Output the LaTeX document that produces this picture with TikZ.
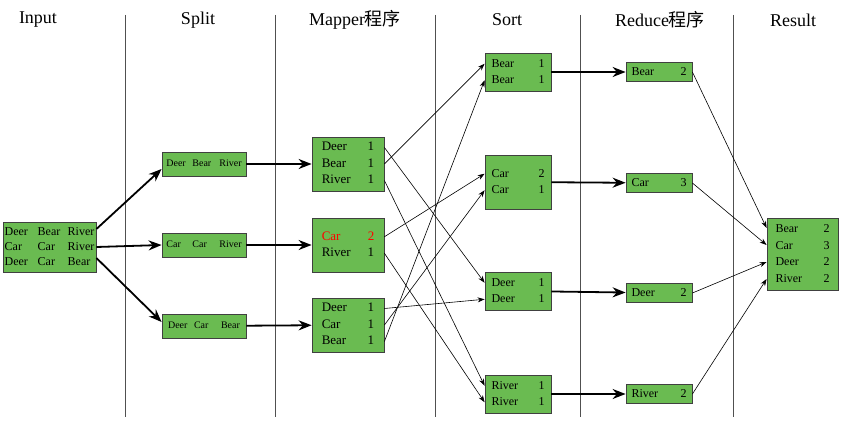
\documentclass[tikz,border=0pt]{standalone}
\usepackage{fontspec}
\setmainfont{Liberation Serif}
\newfontfamily\cjk{Noto Sans CJK SC}
\usetikzlibrary{arrows.meta}
\definecolor{boxgreen}{RGB}{106,187,81}
\definecolor{rulegray}{RGB}{80,80,80}
\newcommand{\fs}[2]{\fontsize{#1}{#2}\selectfont}
\begin{document}
\begin{tikzpicture}[x=1pt,y=1pt]
		\tikzstyle{every node}+=[inner sep=0pt]
		\tikzstyle{box}=[draw=black!75,fill=boxgreen,line width=0.8pt]
		\tikzstyle{head}=[font=\fs{18}{20}]
		\tikzstyle{bigarrow}=[line width=1.8pt,-{Stealth[length=13pt,width=10pt]}]
		\tikzstyle{thinarrow}=[line width=0.6pt,-{Stealth[length=7pt,width=5pt]}]
		\useasboundingbox (0,0) rectangle (842,-422);
		\foreach \x in {125,275,435,580,733}
			\draw [rulegray,line width=0.8pt] (\x,-15) -- (\x,-417);
		\node [head] (hin) at (38,-20) {Input};
		\node [head] (hsplit) at (198,-20) {Split};
		\node [head] (hmap) at (355,-20) {Mapper{\cjk 程序}};
		\node [head] (hsort) at (507,-20) {Sort};
		\node [head] (hred) at (660,-20) {Reduce{\cjk 程序}};
		\node [head] (hres) at (793,-20) {Result};
		\node [box,minimum width=93pt,minimum height=50pt,font=\fs{12}{15}] (in) at (49.5,-247)
			{\begin{tabular}{@{}p{33pt}@{}p{30pt}@{}l@{}}Deer&Bear&River\\Car&Car&River\\Deer&Car&Bear\end{tabular}};
		\node [box,minimum width=84pt,minimum height=24pt,font=\fs{10}{12}] (sp1) at (204,-164)
			{\begin{tabular}{@{}p{26pt}@{}p{27pt}@{}l@{}}Deer&Bear&River\end{tabular}};
		\node [box,minimum width=84pt,minimum height=24pt,font=\fs{10}{12}] (sp2) at (204,-245)
			{\begin{tabular}{@{}p{26pt}@{}p{27pt}@{}l@{}}Car&Car&River\end{tabular}};
		\node [box,minimum width=84pt,minimum height=24pt,font=\fs{10}{12}] (sp3) at (204,-326)
			{\begin{tabular}{@{}p{26pt}@{}p{27pt}@{}l@{}}Deer&Car&Bear\end{tabular}};
		\node [box,minimum width=72pt,minimum height=54pt,font=\fs{13}{16.5}] (m1) at (348,-164)
			{\begin{tabular}{@{}p{46pt}@{}r@{}}Deer&1\\Bear&1\\River&1\end{tabular}};
		\node [box,minimum width=72pt,minimum height=54pt,font=\fs{13}{16.5}] (m2) at (348,-245)
			{\begin{tabular}{@{}p{46pt}@{}r@{}}\textcolor{red}{Car}&\textcolor{red}{2}\\River&1\end{tabular}};
		\node [box,minimum width=72pt,minimum height=54pt,font=\fs{13}{16.5}] (m3) at (348,-325)
			{\begin{tabular}{@{}p{46pt}@{}r@{}}Deer&1\\Car&1\\Bear&1\end{tabular}};
		\node [box,minimum width=66pt,minimum height=38pt,font=\fs{12}{16.5}] (so1) at (518,-72)
			{\begin{tabular}{@{}p{47pt}@{}r@{}}Bear&1\\Bear&1\end{tabular}};
		\node [box,minimum width=66pt,minimum height=54pt,font=\fs{12}{16.5}] (so2) at (518,-182)
			{\begin{tabular}{@{}p{47pt}@{}r@{}}Car&2\\Car&1\end{tabular}};
		\node [box,minimum width=66pt,minimum height=38pt,font=\fs{12}{16.5}] (so3) at (518,-291)
			{\begin{tabular}{@{}p{47pt}@{}r@{}}Deer&1\\Deer&1\end{tabular}};
		\node [box,minimum width=66pt,minimum height=38pt,font=\fs{12}{16.5}] (so4) at (518,-394)
			{\begin{tabular}{@{}p{47pt}@{}r@{}}River&1\\River&1\end{tabular}};
		\node [box,minimum width=66pt,minimum height=19pt,font=\fs{12}{16.5}] (r1) at (659,-72)
			{\begin{tabular}{@{}p{49pt}@{}r@{}}Bear&2\end{tabular}};
		\node [box,minimum width=66pt,minimum height=19pt,font=\fs{12}{16.5}] (r2) at (659,-183)
			{\begin{tabular}{@{}p{49pt}@{}r@{}}Car&3\end{tabular}};
		\node [box,minimum width=66pt,minimum height=19pt,font=\fs{12}{16.5}] (r3) at (659,-293)
			{\begin{tabular}{@{}p{49pt}@{}r@{}}Deer&2\end{tabular}};
		\node [box,minimum width=66pt,minimum height=19pt,font=\fs{12}{16.5}] (r4) at (659,-394)
			{\begin{tabular}{@{}p{49pt}@{}r@{}}River&2\end{tabular}};
		\node [box,minimum width=71pt,minimum height=72pt,font=\fs{12}{16.5}] (res) at (802.5,-254)
			{\begin{tabular}{@{}p{48pt}@{}r@{}}Bear&2\\Car&3\\Deer&2\\River&2\end{tabular}};
		\draw [bigarrow] ([yshift=18pt]in.east) -- ([yshift=-5pt]sp1.west);
		\draw [bigarrow] (in.east) -- (sp2.west);
		\draw [bigarrow] ([yshift=-11pt]in.east) -- ([yshift=4pt]sp3.west);
		\draw [bigarrow] (sp1) -- (m1);
		\draw [bigarrow] (sp2) -- (m2);
		\draw [bigarrow] (sp3) -- (m3);
		\draw [thinarrow] ([yshift=16.5pt]m1.east) -- ([yshift=8.25pt]so3.west);
		\draw [thinarrow] (m1.east) -- ([yshift=8.25pt]so1.west);
		\draw [thinarrow] ([yshift=-16.5pt]m1.east) -- ([yshift=8.25pt]so4.west);
		\draw [thinarrow] ([yshift=8.25pt]m2.east) -- ([yshift=8.25pt]so2.west);
		\draw [thinarrow] ([yshift=-8.25pt]m2.east) -- ([yshift=-8.25pt]so4.west);
		\draw [thinarrow] ([yshift=16.5pt]m3.east) -- ([yshift=-8.25pt]so3.west);
		\draw [thinarrow] (m3.east) -- ([yshift=-8.25pt]so2.west);
		\draw [thinarrow] ([yshift=-16.5pt]m3.east) -- ([yshift=-8.25pt]so1.west);
		\draw [bigarrow] (so1) -- (r1);
		\draw [bigarrow] (so2) -- (r2);
		\draw [bigarrow] (so3) -- (r3);
		\draw [bigarrow] (so4) -- (r4);
		\draw [thinarrow] (r1.east) -- ([yshift=26pt]res.west);
		\draw [thinarrow] (r2.east) -- ([yshift=9pt]res.west);
		\draw [thinarrow] (r3.east) -- ([yshift=-8pt]res.west);
		\draw [thinarrow] (r4.east) -- ([yshift=-25pt]res.west);
	\end{tikzpicture}
\end{document}
